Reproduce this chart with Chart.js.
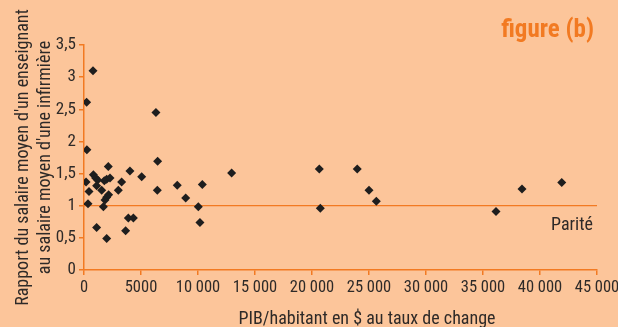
<!DOCTYPE html>
<html>
<head>
<meta charset="utf-8">
<script src="https://cdn.jsdelivr.net/npm/chart.js@4/dist/chart.umd.min.js"></script>
<style>
  html, body { margin: 0; padding: 0; background: #FCC59A; }
  #wrap { width: 618px; height: 327px; }
</style>
</head>
<body>
<div id="wrap"><canvas id="c" width="618" height="327"></canvas></div>
<script>
// GDP per capita (US$, exchange rate) for each country
const gdpPerCapita = [
  230, 790, 250, 180, 440, 350, 820, 1020, 1200, 1110, 1550, 1110,
  1780, 1990, 1700, 1840, 1990, 2160, 2130, 2280, 1990, 3010, 3300,
  3650, 3890, 4330, 4030, 5060, 6310, 6460, 6430, 8180, 8920, 10030,
  10380, 10170, 12950, 20640, 20730, 23970, 25000, 25640, 36140,
  38420, 41910
];
// Ratio of average teacher salary to average nurse salary
const salaryRatio = [
  2.61, 3.10, 1.87, 1.37, 1.22, 1.03, 1.48, 1.43, 1.40, 1.31, 1.24, 0.66,
  1.39, 1.41, 0.985, 1.09, 1.13, 1.17, 1.61, 1.43, 0.49, 1.24, 1.37,
  0.61, 0.81, 0.81, 1.54, 1.45, 2.45, 1.69, 1.24, 1.32, 1.12, 0.985,
  1.33, 0.74, 1.51, 1.57, 0.96, 1.57, 1.24, 1.07, 0.91,
  1.26, 1.36
];
const parityLevel = 1;
const xTickValues = [0, 5000, 10000, 15000, 20000, 25000, 30000, 35000, 40000, 45000];
const xTickLabels = ['0', '5000', '10 000', '15 000', '20 000', '25 000', '30 000', '35 000', '40 000', '45 000'];
const yTickValues = [0, 0.5, 1, 1.5, 2, 2.5, 3, 3.5];
const yTickLabels = ['0', '0,5', '1', '1,5', '2', '2,5', '3', '3,5'];

const ORANGE = '#F27A22';
const BG = '#FCC59A';
const TEXT = '#2E2A28';
const FONT = '"Liberation Sans Narrow", "Roboto Condensed", "Liberation Sans", sans-serif';

const points = gdpPerCapita.map((x, i) => ({ x, y: salaryRatio[i] }));

const decor = {
  id: 'decor',
  beforeDraw(chart) {
    const ctx = chart.ctx;
    ctx.save();
    ctx.fillStyle = BG;
    ctx.fillRect(0, 0, chart.width, chart.height);
    ctx.restore();
  },
  afterDraw(chart) {
    const ctx = chart.ctx;
    const xs = chart.scales.x, ys = chart.scales.y;
    ctx.save();
    ctx.textBaseline = 'alphabetic';
    // parity label under the reference line
    ctx.fillStyle = TEXT;
    ctx.font = '18px ' + FONT;
    ctx.textAlign = 'right';
    ctx.fillText('Parité', xs.getPixelForValue(45000) - 4, ys.getPixelForValue(parityLevel) + 24);
    // x-axis title
    ctx.font = '18px ' + FONT;
    ctx.textAlign = 'center';
    ctx.fillText('PIB/habitant en $ au taux de change', 367, 324);
    // panel heading
    ctx.fillStyle = ORANGE;
    ctx.font = 'bold 25px ' + FONT;
    ctx.textAlign = 'right';
    ctx.fillText('figure (b)', 594, 37);
    ctx.restore();
  }
};

new Chart(document.getElementById('c'), {
  type: 'scatter',
  data: {
    datasets: [
      {
        type: 'line',
        data: [{ x: 0, y: parityLevel }, { x: 45000, y: parityLevel }],
        borderColor: ORANGE,
        borderWidth: 1.3,
        pointRadius: 0,
        order: 2
      },
      {
        data: points,
        pointStyle: 'rectRot',
        pointRadius: 4.5,
        backgroundColor: '#1E1E1E',
        borderColor: '#1E1E1E',
        borderWidth: 0,
        order: 1
      }
    ]
  },
  options: {
    responsive: false,
    animation: false,
    layout: { padding: { top: 45, right: 21, left: 0, bottom: 0 } },
    plugins: { legend: { display: false }, tooltip: { enabled: false } },
    scales: {
      x: {
        type: 'linear',
        min: 0, max: 45000,
        afterBuildTicks(s) { s.ticks = xTickValues.map(v => ({ value: v })); },
        afterFit(s) { s.height = 57; s.paddingLeft = 0; s.paddingRight = 0; },
        border: { color: ORANGE, width: 1.5 },
        grid: { drawOnChartArea: false, color: ORANGE, tickLength: 5, lineWidth: 1.5 },
        ticks: {
          color: TEXT,
          font: { family: FONT, size: 16.5 },
          padding: 3,
          maxRotation: 0,
          autoSkip: false,
          callback: (v) => xTickLabels[xTickValues.indexOf(v)]
        }
      },
      y: {
        type: 'linear',
        min: 0, max: 3.5,
        afterBuildTicks(s) { s.ticks = yTickValues.map(v => ({ value: v })); },
        afterFit(s) { s.width = 84; },
        border: { color: ORANGE, width: 1.5 },
        grid: { drawOnChartArea: false, color: ORANGE, tickLength: 5, lineWidth: 1.5 },
        ticks: {
          color: TEXT,
          font: { family: FONT, size: 17 },
          padding: 3,
          callback: (v) => yTickLabels[yTickValues.indexOf(v)]
        },
        title: {
          display: true,
          text: ["Rapport du salaire moyen d'un enseignant", "au salaire moyen d'une infirmière"],
          color: TEXT,
          font: { family: FONT, size: 18, lineHeight: 1.25 },
          padding: { top: 12, bottom: 0 }
        }
      }
    }
  },
  plugins: [decor]
});
</script>
</body>
</html>
